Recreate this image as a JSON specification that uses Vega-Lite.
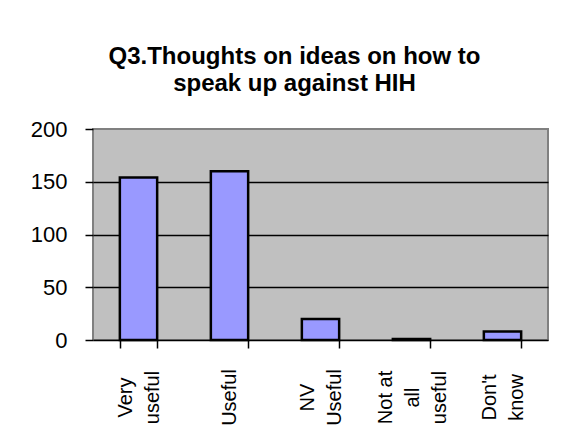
{
  "$schema": "https://vega.github.io/schema/vega-lite/v6.json",
  "autosize": {"type": "none"},
  "width": 455,
  "height": 211,
  "padding": {"left": 93, "top": 129, "right": 26, "bottom": 92},
  "background": "white",
  "title": {
    "text": ["Q3.Thoughts on ideas on how to", "speak up against HIH"],
    "font": "Liberation Sans",
    "fontSize": 24,
    "fontWeight": "bold",
    "color": "black",
    "anchor": "middle",
    "dx": -26,
    "offset": 22,
    "lineHeight": 27
  },
  "data": {
    "values": [
      {"response": "Very useful", "count": 154},
      {"response": "Useful", "count": 160},
      {"response": "NV Useful", "count": 20},
      {"response": "Not at all useful", "count": 1},
      {"response": "Don't know", "count": 8}
    ]
  },
  "config": {
    "view": {"stroke": "#808080", "strokeWidth": 2, "fill": "#C0C0C0"}
  },
  "mark": {"type": "bar", "fill": "#9999FF", "stroke": "black", "strokeWidth": 2.5},
  "encoding": {
    "x": {
      "field": "response",
      "type": "nominal",
      "sort": null,
      "scale": {"paddingInner": 0.59, "paddingOuter": 0.295},
      "axis": {
        "title": null,
        "labelAngle": -90,
        "labelAlign": "center",
        "labelBaseline": "middle",
        "labelExpr": "datum.value == 'Very useful' ? ['Very', 'useful'] : datum.value == 'NV Useful' ? ['NV', 'Useful'] : datum.value == 'Not at all useful' ? ['Not at', 'all', 'useful'] : datum.value == \"Don't know\" ? [\"Don't\", 'know'] : datum.value",
        "labelOffset": {"expr": "datum.value == 'Useful' ? 0 : datum.value == 'Not at all useful' ? -26 : -13.5"},
        "labelFont": "Liberation Sans",
        "labelFontSize": 20,
        "labelColor": "black",
        "labelLineHeight": 27,
        "labelPadding": 49,
        "labelLimit": 200,
        "tickBand": "extent",
        "tickSize": 8,
        "tickColor": "black",
        "tickWidth": 1.5,
        "domainColor": "black",
        "domainWidth": 1.5
      }
    },
    "y": {
      "field": "count",
      "type": "quantitative",
      "scale": {"domain": [0, 200]},
      "axis": {
        "title": null,
        "values": [0, 50, 100, 150, 200],
        "labelFont": "Liberation Sans",
        "labelFontSize": 22,
        "labelColor": "black",
        "labelPadding": 18,
        "tickSize": 8,
        "tickColor": "black",
        "tickWidth": 1.5,
        "domain": false,
        "grid": true,
        "gridColor": "black",
        "gridWidth": 1.5,
        "gridOpacity": {"expr": "datum.value == 0 || datum.value == 200 ? 0 : 1"}
      }
    }
  }
}
